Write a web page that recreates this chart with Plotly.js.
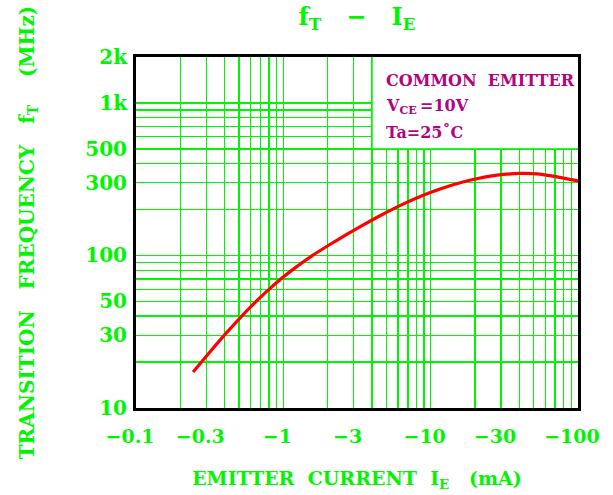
<!DOCTYPE html>
<html>
<head>
<meta charset="utf-8">
<script src="https://cdn.plot.ly/plotly-3.0.1.min.js"></script>
<style>
html,body{margin:0;padding:0;background:#fff;}
#chart{width:613px;height:495px;}
</style>
</head>
<body>
<div id="chart"></div>
<script>
// Emitter current |IE| (mA) and transition frequency fT (MHz)
const emitterCurrent = [0.244, 0.328, 0.421, 0.567, 0.775, 0.949, 1.24, 1.59, 2.07, 2.71, 3.47, 4.53, 6.49, 9.45, 14.2, 19.4, 28.2, 40.4, 52.7, 67.7, 100];
const transitionFreq = [17.2, 24.2, 31.9, 43.5, 58.4, 69.4, 84.8, 100.5, 118, 138, 158, 182, 217, 254, 291, 315, 336, 345, 343, 331, 308];

// Axis labels
const xTickVals = [0.1, 0.3, 1, 3, 10, 30, 100];
const xTickText = ["\u22120.1", "\u22120.3", "\u22121", "\u22123", "\u221210", "\u221230", "\u2212100"];
const xGridVals = [0.2, 0.3, 0.4, 0.5, 0.6, 0.7, 0.8, 0.9, 1, 2, 3, 4, 5, 6, 7, 8, 9, 10, 20, 30, 40, 50, 60, 70, 80, 90];
const yTickVals = [10, 30, 50, 100, 300, 500, 1000, 2000];
const yTickText = ["10", "30", "50", "100", "300", "500", "1k", "2k"];
const yGridVals = [20, 30, 40, 50, 60, 70, 80, 90, 100, 200, 300, 400, 500, 600, 700, 800, 900, 1000];

// Conditions box text
const conditionLines = ["COMMON\u00A0\u00A0EMITTER", "V<sub>CE</sub>\u2009=10V", "Ta=25\u02DAC"];

const GREEN = "#00f500";
const MAGENTA = "#b0057c";
const FONT = "DejaVu Serif";
const SP2 = "\u00A0\u00A0";
const SP3 = "\u00A0\u00A0\u00A0";

const trace = {
  x: emitterCurrent,
  y: transitionFreq,
  type: "scatter",
  mode: "lines",
  line: {color: "#ff0000", width: 3.2, shape: "spline", smoothing: 0.5},
  hoverinfo: "skip",
  showlegend: false
};

const annotations = conditionLines.map((t, i) => ({
  text: t,
  xref: "paper", yref: "paper",
  x: 0.561, y: 0.934 - i * 0.074,
  xanchor: "left", yanchor: "middle",
  showarrow: false,
  font: {family: FONT, size: 16, color: MAGENTA, weight: 700}
}));

const layout = {
  width: 613, height: 495,
  margin: {l: 136, r: 35, t: 57, b: 87, pad: 0},
  paper_bgcolor: "#ffffff",
  plot_bgcolor: "#ffffff",
  showlegend: false,
  title: {
    text: "f<sub>T</sub>" + SP3 + "\u2212" + SP3 + "I<sub>E</sub>",
    font: {family: FONT, size: 24, color: GREEN, weight: 700},
    xref: "paper", x: 0.5, xanchor: "center",
    yref: "container", y: 0.966, yanchor: "middle"
  },
  xaxis: {
    type: "log",
    range: [-1, 2],
    tickmode: "array", tickvals: xTickVals, ticktext: xTickText,
    ticks: "", ticklabelstandoff: 9, ticklabelshift: -6,
    tickfont: {family: FONT, size: 19, color: GREEN, weight: 700},
    showgrid: false,
    minor: {tickmode: "array", tickvals: xGridVals, showgrid: true, gridcolor: GREEN, gridwidth: 1.4, ticks: ""},
    showline: true, linecolor: "#000000", linewidth: 3, mirror: true,
    zeroline: false,
    title: {
      text: "EMITTER" + SP2 + "CURRENT" + SP2 + "I<sub>E</sub>" + SP3 + "(mA)",
      font: {family: FONT, size: 19, color: GREEN, weight: 700},
      standoff: 26
    },
    fixedrange: true
  },
  yaxis: {
    type: "log",
    range: [1, Math.log10(2000)],
    tickmode: "array", tickvals: yTickVals, ticktext: yTickText,
    ticks: "", ticklabelstandoff: 2,
    tickfont: {family: FONT, size: 20, color: GREEN, weight: 700},
    showgrid: false,
    minor: {tickmode: "array", tickvals: yGridVals, showgrid: true, gridcolor: GREEN, gridwidth: 1.4, ticks: ""},
    showline: true, linecolor: "#000000", linewidth: 3, mirror: true,
    zeroline: false,
    title: {
      text: "TRANSITION" + SP3 + "FREQUENCY" + SP3 + "f<sub>T</sub>" + SP3 + "\u00A0(MHz)",
      font: {family: FONT, size: 20, color: GREEN, weight: 700},
      standoff: 46
    },
    fixedrange: true
  },
  shapes: [{
    type: "rect", layer: "between",
    xref: "x", yref: "y",
    x0: 4, x1: 150, y0: 500, y1: 3000,
    fillcolor: "#ffffff",
    line: {color: GREEN, width: 1.4}
  }],
  annotations: annotations
};

Plotly.newPlot("chart", [trace], layout, {displayModeBar: false, staticPlot: true});
</script>
</body>
</html>
